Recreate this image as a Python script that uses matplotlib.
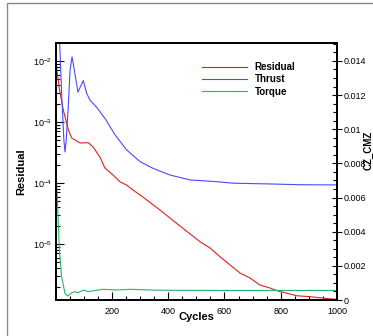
import matplotlib
matplotlib.use('Agg')
import matplotlib.pyplot as plt
from matplotlib.ticker import MultipleLocator, LogLocator, FuncFormatter, NullFormatter

plt.rcParams['font.family'] = ['Liberation Sans', 'DejaVu Sans']
plt.rcParams['mathtext.default'] = 'regular'

# Residual (left, log axis)
res_cycles = [1, 13, 27, 45, 57, 86, 116, 133, 157, 175, 204, 229, 252, 275, 310, 324,
              371, 424, 513, 549, 584, 620, 655, 691, 726, 762, 790, 821, 857, 904, 951, 986, 1000]
res_values = [9.3e-3, 3.48e-3, 1.57e-3, 7.4e-4, 5.47e-4, 4.53e-4, 4.57e-4, 3.89e-4, 2.67e-4,
              1.76e-4, 1.35e-4, 1.04e-4, 9.27e-5, 7.67e-5, 5.89e-5, 5.26e-5, 3.6e-5, 2.29e-5,
              1.09e-5, 8.6e-6, 6.19e-6, 4.53e-6, 3.35e-6, 2.77e-6, 2.13e-6, 1.9e-6, 1.7e-6,
              1.57e-6, 1.42e-6, 1.37e-6, 1.3e-6, 1.25e-6, 1.24e-6]

# Thrust (right axis)
thr_cycles = [1, 14, 22, 29, 33, 37, 44, 51, 58, 69, 79, 88, 98, 110, 122, 146, 168, 175, 211,
              252, 300, 346, 406, 478, 572, 630, 750, 869, 1000]
thr_values = [0.0165, 0.0150, 0.01172, 0.00937, 0.00867, 0.0093, 0.01113, 0.01347, 0.01424,
              0.01318, 0.01218, 0.0125, 0.01285, 0.0121, 0.0117, 0.01128, 0.01078, 0.01064,
              0.00967, 0.00879, 0.0081, 0.00771, 0.00732, 0.00703, 0.00693, 0.00684, 0.0068,
              0.00675, 0.00674]

# Torque (right axis)
trq_cycles = [1, 6, 13, 21, 33, 42, 57, 69, 80, 98, 116, 134, 169, 217, 264, 335, 406,
              600, 800, 1000]
trq_values = [0.00762, 0.00586, 0.00293, 0.00136, 0.000392, 0.000234, 0.000428, 0.000486,
              0.000428, 0.000586, 0.000486, 0.000545, 0.000627, 0.000586, 0.000627, 0.000586,
              0.000568, 0.00056, 0.00056, 0.00056]

W, H = 373, 336
fig = plt.figure(figsize=(W / 100, H / 100), dpi=100)

# outer grey frame
fig.add_artist(plt.Rectangle((7 / W, -0.1), 1.2, 1.1 - 3.3 / H, transform=fig.transFigure,
                             fill=False, ec='#8a8a8a', lw=1))

ax = fig.add_axes([56 / W, 36 / H, 281 / W, 257 / H])
ax.set_yscale('log')
ax.set_xlim(1, 1000)
ax.set_ylim(1.21e-6, 0.0197)
l1, = ax.plot(res_cycles, res_values, color='#e02020', lw=0.8, label='Residual')

ax2 = ax.twinx()
ax2.set_ylim(0, 0.01505)
l2, = ax2.plot(thr_cycles, thr_values, color='#4a4aff', lw=0.8, label='Thrust')
l3, = ax2.plot(trq_cycles, trq_values, color='#22b868', lw=0.8, label='Torque')

for a in (ax, ax2):
    for s in a.spines.values():
        s.set_linewidth(1.3)

ax.xaxis.set_major_locator(MultipleLocator(200))
ax.xaxis.set_minor_locator(MultipleLocator(50))
ax.yaxis.set_major_locator(LogLocator(base=10, numticks=10))
ax.yaxis.set_minor_locator(LogLocator(base=10, subs=[2, 3, 4, 5, 6, 7, 8, 9], numticks=10))
ax.yaxis.set_minor_formatter(NullFormatter())
ax.tick_params(which='both', direction='in', top=False, right=False, labelsize=6.5, width=0.8)
ax.tick_params(which='major', length=6, pad=3)
ax.tick_params(which='minor', length=3)
ax.tick_params(axis='x', which='major', pad=5)

ax2.yaxis.set_major_locator(MultipleLocator(0.002))
ax2.yaxis.set_minor_locator(MultipleLocator(0.0005))
ax2.yaxis.set_major_formatter(FuncFormatter(lambda v, p: '%g' % round(v, 6)))
ax2.tick_params(which='major', direction='inout', length=7, width=0.8, labelsize=6.5, pad=1)
ax2.tick_params(which='minor', direction='in', length=3, width=0.8)

fig.text(21 / W, 1 - 172 / H, 'Residual', rotation=90, ha='center', va='center',
         fontsize=8, fontweight='bold')
fig.text(196 / W, 1 - 317 / H, 'Cycles', ha='center', va='center',
         fontsize=8, fontweight='bold')
fig.text(369 / W, 1 - 150 / H, 'CZ_CMZ', rotation=90, ha='center', va='center',
         fontsize=7, fontweight='bold')

ax2.legend([l1, l2, l3], ['Residual', 'Thrust', 'Torque'], loc='upper left',
           bbox_to_anchor=(202 / W, 1 - 62 / H), bbox_transform=fig.transFigure,
           frameon=False, prop={'weight': 'bold', 'size': 7}, handlelength=4.6,
           handletextpad=0.8, labelspacing=0.25, borderpad=0, borderaxespad=0)

fig.savefig('out.png', dpi=100)
